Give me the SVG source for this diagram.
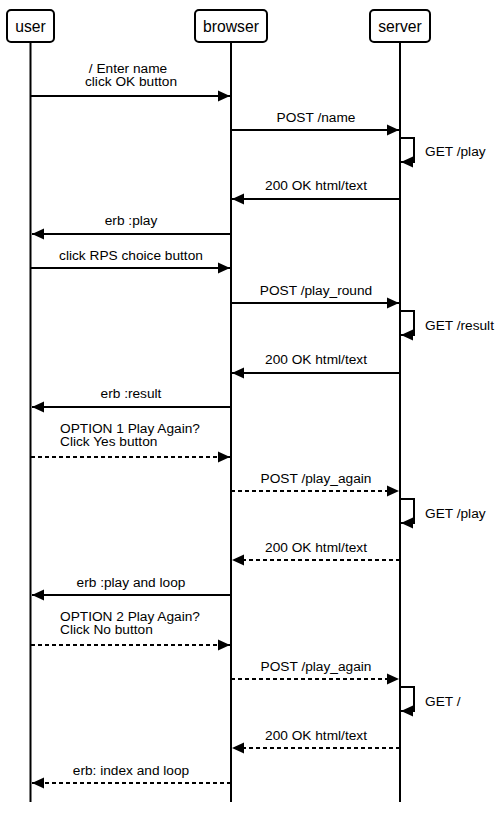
<svg xmlns="http://www.w3.org/2000/svg" width="502" height="820" viewBox="0 0 502 820">
<defs>
<style>
.box{fill:#fff;stroke:#000;stroke-width:2}
.life{stroke:#000;stroke-width:2;fill:none}
.msg{stroke:#000;stroke-width:2;fill:none}
.dash{stroke-dasharray:4 3}
.hd{font-family:"Liberation Sans",Arial,sans-serif;font-size:15.7px;fill:#000;text-anchor:middle}
.lb{font-family:"Liberation Sans",Arial,sans-serif;font-size:13.7px;fill:#000;text-anchor:middle}
.ll{font-family:"Liberation Sans",Arial,sans-serif;font-size:13.7px;fill:#000}
</style>
<marker id="ah" markerUnits="userSpaceOnUse" markerWidth="12" markerHeight="12" viewBox="0 0 10 10" refX="10" refY="5" orient="auto">
<path d="M0,0.5 L10,5 L0,9.5 z" fill="#000"/>
</marker>
</defs>
<rect width="502" height="820" fill="#fff"/>
<g id="user">
<line class="life" x1="30.5" y1="42" x2="30.5" y2="802"/>
<rect class="box" x="7" y="10" width="47" height="32" rx="4"/>
<text class="hd" x="30.5" y="31.5">user</text>
</g>
<g id="browser">
<line class="life" x1="231" y1="42" x2="231" y2="802"/>
<rect class="box" x="195" y="10" width="72" height="32" rx="4"/>
<text class="hd" x="231" y="31.5">browser</text>
</g>
<g id="server">
<line class="life" x1="400" y1="42" x2="400" y2="802"/>
<rect class="box" x="370" y="10" width="60" height="32" rx="4"/>
<text class="hd" x="400" y="31.5">server</text>
</g>
<g id="connectors">
<line class="msg" x1="31" y1="96" x2="230" y2="96" marker-end="url(#ah)"/>
<text class="lb" x="128" y="72.5">/ Enter name</text>
<text class="lb" x="131" y="86">click OK button</text>

<line class="msg" x1="231" y1="130" x2="399" y2="130" marker-end="url(#ah)"/>
<text class="lb" x="316" y="121.5">POST /name</text>

<polyline class="msg" points="401,138 414,138 414,162 401,162" marker-end="url(#ah)"/>
<text class="ll" x="425" y="156">GET /play</text>

<line class="msg" x1="400" y1="199" x2="232" y2="199" marker-end="url(#ah)"/>
<text class="lb" x="316" y="190">200 OK html/text</text>

<line class="msg" x1="231" y1="234" x2="32" y2="234" marker-end="url(#ah)"/>
<text class="lb" x="131" y="225">erb :play</text>

<line class="msg" x1="31" y1="268" x2="230" y2="268" marker-end="url(#ah)"/>
<text class="lb" x="131" y="259.5">click RPS choice button</text>

<line class="msg" x1="231" y1="303" x2="399" y2="303" marker-end="url(#ah)"/>
<text class="lb" x="316" y="294.5">POST /play_round</text>

<polyline class="msg" points="401,311 414,311 414,335 401,335" marker-end="url(#ah)"/>
<text class="ll" x="425" y="329.5">GET /result</text>

<line class="msg" x1="400" y1="373" x2="232" y2="373" marker-end="url(#ah)"/>
<text class="lb" x="316" y="364">200 OK html/text</text>

<line class="msg" x1="231" y1="407" x2="32" y2="407" marker-end="url(#ah)"/>
<text class="lb" x="131" y="398">erb :result</text>

<line class="msg dash" x1="31" y1="457" x2="230" y2="457" marker-end="url(#ah)"/>
<text class="ll" x="60" y="432.5">OPTION 1 Play Again?</text>
<text class="ll" x="60" y="446">Click Yes button</text>

<line class="msg dash" x1="231" y1="491" x2="399" y2="491" marker-end="url(#ah)"/>
<text class="lb" x="316" y="482.5">POST /play_again</text>

<polyline class="msg" points="401,499 414,499 414,523 401,523" marker-end="url(#ah)"/>
<text class="ll" x="425" y="517.5">GET /play</text>

<line class="msg dash" x1="400" y1="560" x2="232" y2="560" marker-end="url(#ah)"/>
<text class="lb" x="316" y="551.5">200 OK html/text</text>

<line class="msg" x1="231" y1="595" x2="32" y2="595" marker-end="url(#ah)"/>
<text class="lb" x="131" y="586.5">erb :play and loop</text>

<line class="msg dash" x1="31" y1="645" x2="230" y2="645" marker-end="url(#ah)"/>
<text class="ll" x="60" y="620.5">OPTION 2 Play Again?</text>
<text class="ll" x="60" y="634">Click No button</text>

<line class="msg dash" x1="231" y1="679" x2="399" y2="679" marker-end="url(#ah)"/>
<text class="lb" x="316" y="670.5">POST /play_again</text>

<polyline class="msg" points="401,687 414,687 414,711 401,711" marker-end="url(#ah)"/>
<text class="ll" x="425" y="705.5">GET /</text>

<line class="msg dash" x1="400" y1="748" x2="232" y2="748" marker-end="url(#ah)"/>
<text class="lb" x="316" y="739.5">200 OK html/text</text>

<line class="msg dash" x1="231" y1="783" x2="32" y2="783" marker-end="url(#ah)"/>
<text class="lb" x="131" y="774.5">erb: index and loop</text>
</g>
</svg>
